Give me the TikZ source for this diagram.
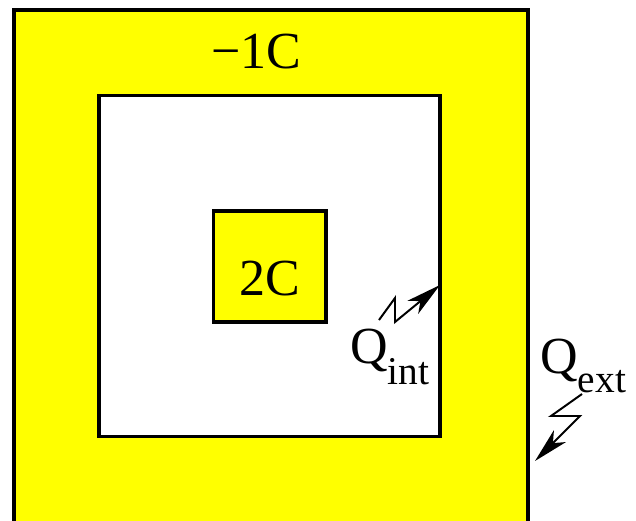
\documentclass[tikz,border=0pt]{standalone}
\usepackage{fontspec}
\setmainfont{Liberation Serif}
\usetikzlibrary{arrows.meta}
\definecolor{shellyellow}{RGB}{255,255,0}

\begin{document}
\begin{tikzpicture}[x=0.025cm,y=-0.025cm,>={Stealth[length=25pt,width=12pt,inset=7pt]}]
  \tikzset{box/.style={draw,line width=2.6pt,fill=shellyellow},
    hole/.style={draw,line width=2.6pt,fill=white},
    big/.style={font=\fontsize{37}{40}\selectfont,inner sep=0pt},
    zig/.style={->,line width=1.4pt,line join=miter}}
  \useasboundingbox (0,0) rectangle (636,520);
  % Schale (unten abgeschnitten)
  \begin{scope}
    \clip (0,0) rectangle (636,520);
    \draw[box] (14,10) rectangle (528,560);
  \end{scope}
  \draw[hole] (99,95.5) rectangle (440,436.5);
  \draw[box] (213.5,211) rectangle (326,322);
  % Ladungen
  \node[big,anchor=base] (minus1C) at (256.5,68) {−1C};
  \node[big,anchor=base] (twoC) at (270,295) {2C};
  \node[big,anchor=base west] (qint) at (350,363) {Q\raisebox{-15.6pt}{\fontsize{28}{30}\selectfont int}};
  \node[big,anchor=base west] (qext) at (540,373) {Q\raisebox{-14.2pt}{\fontsize{28}{30}\selectfont ext}};
  % Zickzack-Pfeile
  \coordinate (qint tail) at (379,320);
  \coordinate (qint tip) at (440,285);
  \coordinate (qext tail) at (582,394);
  \coordinate (qext tip) at (535,461);
  \draw[zig] (qint tail) -- (395,298) -- (395,322) -- (qint tip);
  \draw[zig] (qext tail) -- (551,416) -- (580,416) -- (qext tip);
\end{tikzpicture}
\end{document}
